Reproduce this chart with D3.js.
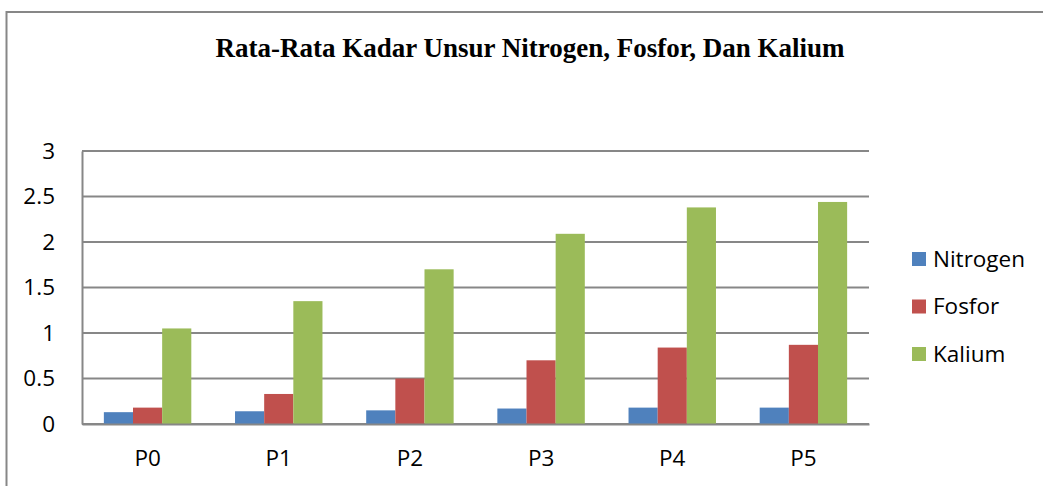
<!DOCTYPE html>
<html>
<head>
<meta charset="utf-8">
<script src="https://cdn.jsdelivr.net/npm/d3@7"></script>
<style>
  body { margin: 0; background: #fff; }
  svg { display: block; }
</style>
</head>
<body>
<svg id="chart" width="1043" height="486"></svg>
<script>
var categories = ["P0", "P1", "P2", "P3", "P4", "P5"];
var seriesNames = ["Nitrogen", "Fosfor", "Kalium"];
var nitrogen = [0.13, 0.14, 0.15, 0.17, 0.18, 0.18];
var fosfor = [0.18, 0.33, 0.50, 0.70, 0.84, 0.87];
var kalium = [1.05, 1.35, 1.70, 2.09, 2.38, 2.44];
var yTicks = [0, 0.5, 1, 1.5, 2, 2.5, 3];
var colors = ["#4F81BD", "#C0504D", "#9BBB59"];
var values = [nitrogen, fosfor, kalium];

var gridColor = "#878787";
var labelFont = "'Open Sans', 'Noto Sans', sans-serif";

var svg = d3.select("#chart");

// outer frame (only top and left edges fall inside the picture)
svg.append("rect")
    .attr("x", 6.5).attr("y", 12)
    .attr("width", 1100).attr("height", 600)
    .attr("fill", "none")
    .attr("stroke", gridColor)
    .attr("stroke-width", 2);

svg.append("text")
    .attr("x", 530).attr("y", 57)
    .attr("text-anchor", "middle")
    .style("font-family", "'Liberation Serif', 'Times New Roman', serif")
    .style("font-weight", "bold")
    .style("font-size", "27px")
    .text("Rata-Rata Kadar Unsur Nitrogen, Fosfor, Dan Kalium");

var plot = { left: 82, right: 869, top: 151, bottom: 424 };

var x0 = d3.scaleBand().domain(categories).range([plot.left, plot.right]);
var bw = x0.bandwidth();
var x1 = d3.scaleBand().domain(seriesNames).range([bw / 6, bw * 5 / 6]);
var y = d3.scaleLinear().domain([0, 3]).range([plot.bottom, plot.top]);

// gridlines
svg.append("g").selectAll("line")
    .data(yTicks)
    .enter().append("line")
    .attr("x1", plot.left).attr("x2", plot.right)
    .attr("y1", function (d) { return y(d); })
    .attr("y2", function (d) { return y(d); })
    .attr("stroke", gridColor)
    .attr("stroke-width", 2);

// y axis
var yAxis = svg.append("g")
    .attr("transform", "translate(" + plot.left + ",0)")
    .call(d3.axisLeft(y).tickValues(yTicks).tickSize(0).tickPadding(27).tickFormat(d3.format("")));
yAxis.select(".domain").attr("stroke", gridColor).attr("stroke-width", 2);
yAxis.selectAll("text")
    .style("font-family", labelFont)
    .style("font-size", "22.5px")
    .attr("fill", "#000");

// bars
var groups = svg.append("g").selectAll("g")
    .data(categories)
    .enter().append("g")
    .attr("transform", function (d) { return "translate(" + x0(d) + ",0)"; });

groups.selectAll("rect")
    .data(function (d, i) {
        return seriesNames.map(function (s, k) { return { name: s, value: values[k][i], k: k }; });
    })
    .enter().append("rect")
    .attr("x", function (d) { return x1(d.name); })
    .attr("width", x1.bandwidth())
    .attr("y", function (d) { return y(d.value); })
    .attr("height", function (d) { return y(0) - y(d.value); })
    .attr("fill", function (d) { return colors[d.k]; });

// x axis
var xAxis = svg.append("g")
    .attr("transform", "translate(0," + plot.bottom + ")")
    .call(d3.axisBottom(x0).tickSize(0).tickPadding(26));
xAxis.select(".domain").attr("stroke", gridColor).attr("stroke-width", 2);
xAxis.selectAll("text")
    .style("font-family", labelFont)
    .style("font-size", "22.5px")
    .attr("fill", "#000");

// legend
var legend = svg.append("g").selectAll("g")
    .data(seriesNames)
    .enter().append("g")
    .attr("transform", function (d, i) { return "translate(912," + (259 + i * 47.5) + ")"; });
legend.append("rect")
    .attr("x", 0).attr("y", -7)
    .attr("width", 14).attr("height", 14)
    .attr("fill", function (d, i) { return colors[i]; });
legend.append("text")
    .attr("x", 21).attr("y", 0)
    .attr("dy", "0.35em")
    .style("font-family", labelFont)
    .style("font-size", "22.5px")
    .text(function (d) { return d; });
</script>
</body>
</html>
